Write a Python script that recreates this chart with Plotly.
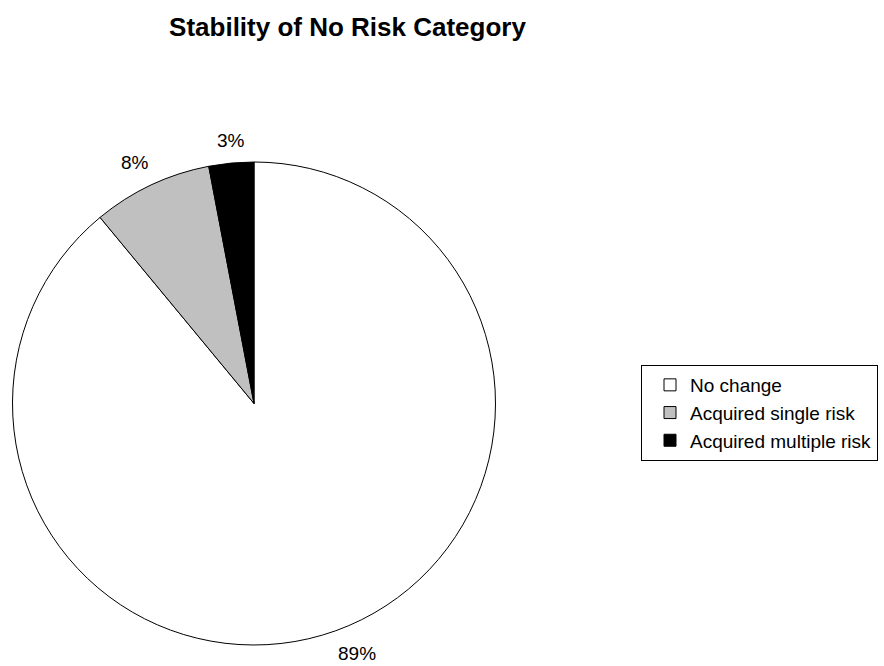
import math
import plotly.graph_objects as go

# Share of the "No Risk" group by change in risk status (percent)
categories = ["No change", "Acquired single risk", "Acquired multiple risk"]
shares = [89, 8, 3]
slice_colors = ["#ffffff", "#c0c0c0", "#000000"]

W, H = 884, 666
# pie geometry in pixels
CX, CY, R = 254.0, 403.5, 241.5

fig = go.Figure(
    go.Pie(
        labels=categories,
        values=shares,
        sort=False,
        direction="clockwise",
        rotation=0,
        marker=dict(colors=slice_colors, line=dict(color="#000000", width=1)),
        textinfo="none",
        hoverinfo="label+percent",
        domain=dict(x=[(CX - R) / W, (CX + R) / W], y=[1 - (CY + R) / H, 1 - (CY - R) / H]),
    )
)

# percentage labels just outside the rim, at each slice's mid angle
total = sum(shares)
cum = 0.0
annotations = []
for v in shares:
    mid = (cum + v / 2) / total * 2 * math.pi
    cum += v
    s, c = math.sin(mid), math.cos(mid)
    px = CX + R * s
    py = CY - R * c
    if s > 0.25:
        xa = "left"
    elif s < -0.25:
        xa = "right"
    else:
        xa = "center"
    ya = "bottom" if c > 0 else "top"
    annotations.append(
        dict(
            x=px / W,
            y=1 - py / H,
            xref="paper",
            yref="paper",
            text=f"{round(v / total * 100)}%",
            showarrow=False,
            xanchor=xa,
            yanchor=ya,
            yshift=10 if c > 0 else -10,
            font=dict(size=19, color="#000000"),
        )
    )

fig.update_layout(
    width=W,
    height=H,
    margin=dict(l=0, r=0, t=0, b=0),
    paper_bgcolor="#ffffff",
    plot_bgcolor="#ffffff",
    font=dict(family="Liberation Sans, Arial, sans-serif", color="#000000"),
    title=dict(
        text="<b>Stability of No Risk Category</b>",
        x=347.5 / W,
        xanchor="center",
        y=1 - 27 / H,
        yanchor="middle",
        font=dict(size=26, color="#000000"),
    ),
    showlegend=True,
    legend=dict(
        x=641 / W,
        y=1 - 365 / H,
        xanchor="left",
        yanchor="top",
        bordercolor="#000000",
        borderwidth=1,
        bgcolor="#ffffff",
        font=dict(size=19, color="#000000"),
        indentation=8,
        tracegroupgap=0,
    ),
    annotations=annotations,
)

fig.write_html("out.html")
